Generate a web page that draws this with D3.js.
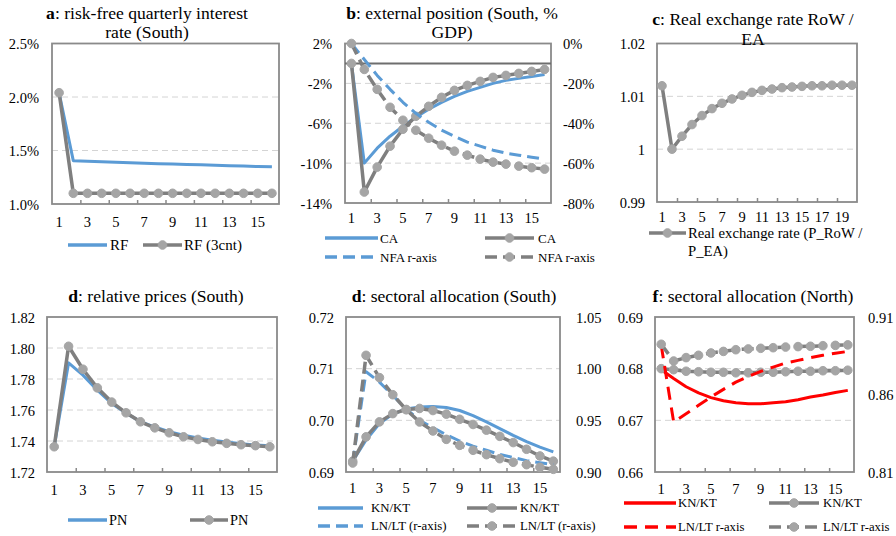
<!DOCTYPE html>
<html><head><meta charset="utf-8">
<script src="https://cdn.jsdelivr.net/npm/d3@7"></script>
<style>
body{margin:0;background:#fff}
text{font-family:"Liberation Serif","Times New Roman",serif;fill:#000}
</style>
</head><body>
<svg id="chart" width="896" height="536"></svg>
<script>
// ---------- DATA ----------
const cats16 = [1,2,3,4,5,6,7,8,9,10,11,12,13,14,15,16];
const cats20 = [1,2,3,4,5,6,7,8,9,10,11,12,13,14,15,16,17,18,19,20];

// a: risk-free quarterly interest rate (South), %
const rfBase = [2.04,1.405,1.40,1.395,1.39,1.385,1.38,1.377,1.373,1.37,1.366,1.362,1.358,1.354,1.35,1.347];
const rf3cnt = [2.04,1.10,1.10,1.10,1.10,1.10,1.10,1.10,1.10,1.10,1.10,1.10,1.10,1.10,1.10,1.10];
const ticksA = [1.0,1.5,2.0,2.5];

// b: external position (South, % GDP)
const caBase  = [0,-10.0,-8.5,-7.3,-6.3,-5.4,-4.6,-3.9,-3.3,-2.8,-2.4,-2.0,-1.7,-1.5,-1.3,-1.1];
const ca3cnt  = [0,-12.9,-10.4,-8.3,-6.6,-5.3,-4.3,-3.4,-2.7,-2.2,-1.8,-1.4,-1.2,-1.0,-0.8,-0.6];
const nfaBase = [0,-8,-16,-23,-29.5,-35,-39.5,-43.5,-46.5,-49.5,-51.5,-53.5,-55,-56,-57,-58];
const nfa3cnt = [0,-13,-23,-32,-38.5,-43.5,-47.5,-51,-54,-56,-58,-59.5,-60.5,-61.5,-62.3,-63];
const ticksB  = [-14,-10,-6,-2,2];
const ticksB2 = [-80,-60,-40,-20,0];

// c: real exchange rate RoW / EA
const rer = [1.0120,1.0000,1.00245,1.00466,1.00636,1.00768,1.00868,1.00950,1.01019,1.01075,1.01113,1.01138,1.01164,1.01176,1.01189,1.0120,1.0120,1.0121,1.0121,1.0121];
const ticksC = [0.99,1.00,1.01,1.02];

// d: relative prices (South)
const pnBase = [1.7363,1.7904,1.7825,1.7728,1.7642,1.758,1.7525,1.749,1.746,1.7438,1.742,1.7405,1.7393,1.7383,1.7375,1.737];
const pn3cnt = [1.7363,1.8011,1.7863,1.7743,1.7651,1.7582,1.7524,1.7485,1.7453,1.7427,1.7410,1.7395,1.7385,1.7376,1.7370,1.7363];
const ticksD = [1.72,1.74,1.76,1.78,1.80,1.82];

// e: sectoral allocation (South)
const knSBase = [0.6921,0.6962,0.6994,0.7012,0.7022,0.7026,0.7027,0.7025,0.7019,0.7009,0.6997,0.6984,0.6971,0.6959,0.6948,0.6939];
const knS3cnt = [0.6921,0.6968,0.6997,0.7013,0.7021,0.7023,0.7019,0.7012,0.7002,0.6992,0.6981,0.6969,0.6957,0.6944,0.6931,0.6921];
const lnSBase = [0.909,0.997,0.987,0.974,0.961,0.950,0.943,0.936,0.930,0.925,0.921,0.917,0.914,0.911,0.909,0.907];
const lnS3cnt = [0.9087,1.0129,0.9913,0.9748,0.9603,0.9484,0.9397,0.9316,0.9258,0.9210,0.9168,0.9129,0.9094,0.9071,0.9045,0.9026];
const ticksE  = [0.69,0.70,0.71,0.72];
const ticksE2 = [0.90,0.95,1.00,1.05];

// f: sectoral allocation (North)
const knNBase = [0.6798,0.6781,0.6765,0.6753,0.6744,0.6738,0.6734,0.6732,0.6732,0.6734,0.6736,0.6740,0.6745,0.6749,0.6754,0.6758];
const knN3cnt = [0.6800,0.6798,0.6795,0.6794,0.6793,0.6793,0.6792,0.6792,0.6793,0.6793,0.6794,0.6795,0.6795,0.6796,0.6796,0.6797];
const lnNBase = [0.8917,0.8423,0.8476,0.8530,0.8584,0.8633,0.8680,0.8717,0.8749,0.8777,0.8803,0.8820,0.8838,0.8853,0.8866,0.8878];
const lnN3cnt = [0.8924,0.8816,0.8838,0.8853,0.8868,0.8878,0.8889,0.8894,0.8898,0.8902,0.8906,0.8909,0.8911,0.8915,0.8917,0.8920];
const ticksF  = [0.66,0.67,0.68,0.69];
const ticksF2 = [0.81,0.86,0.91];

// ---------- STYLE ----------
const BLUE = "#5b9bd5", GRAY = "#7f7f7f", MARK = "#a5a5a5", RED = "#ff0000";
const BORDER = "#8a8a8a";
const TICK_FS = 14.5, TITLE_FS = 17.6;
const svg = d3.select("#chart");

function T(parent, x, y, str, anchor, size){
  return parent.append("text")
    .attr("x", x).attr("y", y)
    .attr("text-anchor", anchor).attr("font-size", size)
    .attr("dy", "0.35em").text(str);
}
function styleAxisText(sel){
  sel.selectAll("text").attr("x", 0).attr("y", 0).attr("dy", "0.35em")
    .attr("font-size", TICK_FS).attr("font-family", '"Liberation Serif",serif').attr("fill","#000");
  sel.select(".domain").remove();
}

function panel(cfg){
  const g = svg.append("g");
  const x = d3.scaleBand().domain(cfg.cats).range([cfg.x0, cfg.x1]);
  const y = d3.scaleLinear().domain(cfg.yDom).range([cfg.y1, cfg.y0]);
  const y2 = cfg.y2Dom ? d3.scaleLinear().domain(cfg.y2Dom).range([cfg.y1, cfg.y0]) : null;

  // gridlines
  g.append("g").selectAll("line").data(cfg.grid).join("line")
    .attr("x1", cfg.x0).attr("x2", cfg.x1)
    .attr("y1", d => y(d)).attr("y2", d => y(d))
    .attr("stroke", "#d4d4d4").attr("stroke-width", 1).attr("stroke-dasharray", "6,4");
  // border
  g.append("rect").attr("x", cfg.x0).attr("y", cfg.y0)
    .attr("width", cfg.x1 - cfg.x0).attr("height", cfg.y1 - cfg.y0)
    .attr("fill", "none").attr("stroke", BORDER).attr("stroke-width", 1.8);
  if (cfg.zero != null){
    g.append("line").attr("x1", cfg.x0).attr("x2", cfg.x1)
      .attr("y1", y(cfg.zero)).attr("y2", y(cfg.zero))
      .attr("stroke", "#6e6e6e").attr("stroke-width", 2);
  }
  // category boundary ticks
  const xb = d3.scaleLinear().domain([0, cfg.cats.length]).range([cfg.x0, cfg.x1]);
  const bt = cfg.cats.filter(c => c % 2 === 0 && c < cfg.cats.length);
  g.append("g").attr("transform", `translate(0,${cfg.y1})`)
    .call(d3.axisBottom(xb).tickValues(bt).tickSize(-4).tickFormat(""))
    .call(s => { s.select(".domain").remove(); s.selectAll("line").attr("stroke", BORDER).attr("stroke-width", 1.5); });
  // x labels
  g.append("g").attr("transform", `translate(0,${cfg.xLabY})`)
    .call(d3.axisBottom(x).tickValues(cfg.cats.filter(c => c % 2 === 1)).tickSize(0).tickPadding(0))
    .call(styleAxisText);
  // left axis
  g.append("g").attr("transform", `translate(${cfg.lLabX},0)`)
    .call(d3.axisLeft(y).tickValues(cfg.ticks).tickSize(0).tickPadding(0).tickFormat(cfg.fmt))
    .call(styleAxisText);
  if (y2){
    g.append("g").attr("transform", `translate(${cfg.rLabX},0)`)
      .call(d3.axisRight(y2).tickValues(cfg.ticks2).tickSize(0).tickPadding(0).tickFormat(cfg.fmt2))
      .call(styleAxisText);
  }
  // series
  cfg.series.forEach(sr => {
    const ys = sr.right ? y2 : y;
    const line = d3.line()
      .x((d, i) => x(cfg.cats[i]) + x.bandwidth() / 2)
      .y(d => ys(d));
    g.append("path").datum(sr.values).attr("d", line)
      .attr("fill", "none").attr("stroke", sr.color).attr("stroke-width", sr.w || 3)
      .attr("stroke-linejoin", "round")
      .attr("stroke-dasharray", sr.dash ? sr.dash : null);
    if (sr.marker){
      g.append("g").selectAll("circle").data(sr.values).join("circle")
        .attr("cx", (d, i) => x(cfg.cats[i]) + x.bandwidth() / 2)
        .attr("cy", d => ys(d)).attr("r", 4.3)
        .attr("fill", MARK).attr("stroke", MARK);
    }
  });
  // title
  cfg.title.forEach((ln, i) => {
    const t = g.append("text")
      .attr("x", cfg.tx).attr("y", cfg.ty[i])
      .attr("text-anchor", "middle").attr("font-size", TITLE_FS);
    if (i === 0){
      t.append("tspan").attr("font-weight", "bold").text(ln[0]);
      t.append("tspan").text(ln.slice(1));
    } else t.text(ln);
  });
  // legend
  cfg.legend.forEach(it => {
    g.append("line").attr("x1", it.x0).attr("x2", it.x1).attr("y1", it.y).attr("y2", it.y)
      .attr("stroke", it.color).attr("stroke-width", it.w || 3.5)
      .attr("stroke-dasharray", it.dash ? it.dash : null);
    if (it.marker){
      g.append("circle").attr("cx", (it.x0 + it.x1) / 2).attr("cy", it.y).attr("r", 4.3)
        .attr("fill", MARK).attr("stroke", MARK);
    }
    it.text.forEach((s, k) => T(g, it.tx, it.y + k * 18, s, "start", cfg.legFs));
  });
}

const pct1 = d => d3.format(".1f")(d) + "%";
const pct0 = d => String(d) + "%";
const f2 = d => d3.format(".2f")(d);
const fC = d => (d === 1 ? "1" : d3.format(".2f")(d));

const LDASH = "12,6";

// a
panel({
  cats: cats16, x0: 52, x1: 279, y0: 43.5, y1: 204,
  yDom: [1.0, 2.5], ticks: ticksA, fmt: pct1, grid: [1.5, 2.0],
  lLabX: 39, xLabY: 222, legFs: 15,
  series: [
    {values: rfBase, color: BLUE},
    {values: rf3cnt, color: GRAY, w: 3.5, marker: true}
  ],
  title: ["a: risk-free quarterly interest", "rate (South)"], tx: 147, ty: [19, 38],
  legend: [
    {x0: 68, x1: 107, y: 245, color: BLUE, text: ["RF"], tx: 110},
    {x0: 143, x1: 182, y: 245, color: GRAY, marker: true, text: ["RF (3cnt)"], tx: 184}
  ]
});

// b
panel({
  cats: cats16, x0: 345, x1: 551, y0: 43.5, y1: 203,
  yDom: [-14, 2], ticks: ticksB, fmt: pct0, grid: [-2, -6, -10], zero: 0,
  y2Dom: [-80, 0], ticks2: ticksB2, fmt2: pct0,
  lLabX: 332, rLabX: 563, xLabY: 218, legFs: 13,
  series: [
    {values: caBase, color: BLUE},
    {values: ca3cnt, color: GRAY, w: 3.5, marker: true},
    {values: nfaBase, color: BLUE, right: true, dash: LDASH},
    {values: nfa3cnt, color: GRAY, w: 3.5, right: true, dash: LDASH, marker: true}
  ],
  title: ["b: external position (South, %", "GDP)"], tx: 452, ty: [19, 38],
  legend: [
    {x0: 325, x1: 378, y: 238, color: BLUE, text: ["CA"], tx: 380},
    {x0: 485, x1: 534, y: 238, color: GRAY, marker: true, text: ["CA"], tx: 538},
    {x0: 325, x1: 378, y: 257, color: BLUE, dash: LDASH, text: ["NFA r-axis"], tx: 380},
    {x0: 485, x1: 534, y: 257, color: GRAY, dash: LDASH, marker: true, text: ["NFA r-axis"], tx: 538}
  ]
});

// c
panel({
  cats: cats20, x0: 657, x1: 857, y0: 43.5, y1: 202,
  yDom: [0.99, 1.02], ticks: ticksC, fmt: fC, grid: [1.00, 1.01],
  lLabX: 645, xLabY: 217, legFs: 14.7,
  series: [
    {values: rer, color: GRAY, w: 3.5, marker: true}
  ],
  title: ["c: Real exchange rate RoW /", "EA"], tx: 753, ty: [25, 45],
  legend: [
    {x0: 649, x1: 686, y: 233, color: GRAY, marker: true, text: ["Real exchange rate (P_RoW /", "P_EA)"], tx: 688}
  ]
});

// d
panel({
  cats: cats16, x0: 47, x1: 277, y0: 317, y1: 472,
  yDom: [1.72, 1.82], ticks: ticksD, fmt: f2, grid: [1.74, 1.76, 1.78, 1.80],
  lLabX: 35, xLabY: 490, legFs: 14.3,
  series: [
    {values: pnBase, color: BLUE},
    {values: pn3cnt, color: GRAY, w: 3.5, marker: true}
  ],
  title: ["d: relative prices (South)"], tx: 156, ty: [302],
  legend: [
    {x0: 68, x1: 107, y: 520, color: BLUE, text: ["PN"], tx: 109},
    {x0: 190, x1: 228, y: 520, color: GRAY, marker: true, text: ["PN"], tx: 230}
  ]
});

// e
panel({
  cats: cats16, x0: 346, x1: 560, y0: 317, y1: 472,
  yDom: [0.69, 0.72], ticks: ticksE, fmt: f2, grid: [0.70, 0.71],
  y2Dom: [0.90, 1.05], ticks2: ticksE2, fmt2: f2,
  lLabX: 334, rLabX: 576, xLabY: 488, legFs: 12.8,
  series: [
    {values: knSBase, color: BLUE},
    {values: knS3cnt, color: GRAY, w: 3.5, marker: true},
    {values: lnSBase, color: BLUE, right: true, dash: LDASH},
    {values: lnS3cnt, color: GRAY, w: 3.5, right: true, dash: LDASH, marker: true}
  ],
  title: ["d: sectoral allocation (South)"], tx: 454, ty: [302],
  legend: [
    {x0: 318, x1: 363, y: 508, color: BLUE, text: ["KN/KT"], tx: 371},
    {x0: 467, x1: 517, y: 508, color: GRAY, marker: true, text: ["KN/KT"], tx: 520},
    {x0: 318, x1: 363, y: 526, color: BLUE, dash: LDASH, text: ["LN/LT (r-axis)"], tx: 371},
    {x0: 467, x1: 517, y: 526, color: GRAY, dash: LDASH, marker: true, text: ["LN/LT (r-axis)"], tx: 520}
  ]
});

// f
panel({
  cats: cats16, x0: 655, x1: 854, y0: 317, y1: 472,
  yDom: [0.66, 0.69], ticks: ticksF, fmt: f2, grid: [0.67, 0.68],
  y2Dom: [0.81, 0.91], ticks2: ticksF2, fmt2: f2,
  lLabX: 643, rLabX: 868, xLabY: 489, legFs: 12.7,
  series: [
    {values: knNBase, color: RED},
    {values: knN3cnt, color: GRAY, w: 3.5, marker: true},
    {values: lnNBase, color: RED, right: true, dash: "13,8"},
    {values: lnN3cnt, color: GRAY, w: 3.5, right: true, dash: LDASH, marker: true}
  ],
  title: ["f: sectoral allocation (North)"], tx: 753, ty: [302],
  legend: [
    {x0: 624, x1: 676, y: 503, color: RED, text: ["KN/KT"], tx: 678},
    {x0: 769, x1: 819, y: 503, color: GRAY, marker: true, text: ["KN/KT"], tx: 823},
    {x0: 624, x1: 676, y: 527, color: RED, dash: "13,8", text: ["LN/LT r-axis"], tx: 678},
    {x0: 769, x1: 819, y: 527, color: GRAY, dash: LDASH, marker: true, text: ["LN/LT r-axis"], tx: 823}
  ]
});
</script>
</body></html>
